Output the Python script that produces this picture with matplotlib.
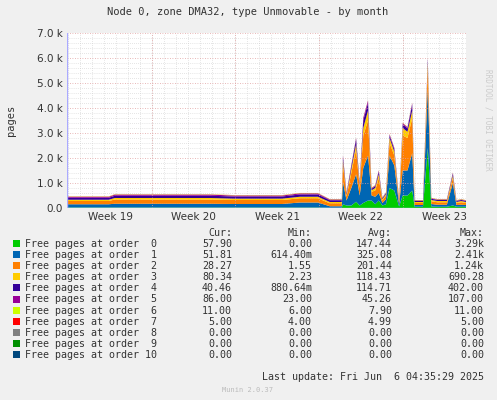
import matplotlib
matplotlib.use("Agg")
import matplotlib.pyplot as plt
import numpy as np

t = [0,1,3.5,4,6,8,10,12,14,16,18,19.5,20,21,22,22.2,23,23.1,23.4,23.8,24.2,24.5,24.8,25.2,25.5,25.8,26.1,26.4,26.7,27.0,27.4,27.8,28.1,28.5,28.9,29.1,29.4,29.8,30.2,30.5,31,31.8,32.3,32.6,33,33.4]
o0 = [20,20,20,20,20,20,20,20,20,20,20,20,20,20,10,10,10,150,100,100,250,100,200,300,300,150,300,100,150,800,700,60,500,500,700,50,50,50,2400,60,50,50,100,50,50,50]
o1 = [130,130,130,150,150,150,150,150,140,140,140,200,200,200,60,60,60,900,200,700,1100,400,1400,1800,200,300,300,100,200,1300,1000,80,1000,1000,1500,70,70,70,2400,100,80,80,900,70,80,70]
o2 = [130,130,130,170,170,170,170,170,160,160,160,170,170,170,120,120,120,700,150,600,1000,300,1300,1400,150,250,600,100,150,500,400,100,1400,1300,1400,80,80,80,800,110,100,100,200,80,100,80]
o3 = [50,50,50,60,60,60,60,60,55,55,55,60,60,60,50,50,50,150,60,150,200,100,300,400,60,100,150,50,50,200,150,50,300,250,300,40,40,40,200,50,50,50,100,40,50,40]
o4 = [80,80,80,90,90,90,90,90,85,85,85,90,90,90,70,70,70,150,60,120,200,80,300,300,60,70,100,40,40,100,100,40,150,130,250,40,40,40,150,50,40,40,80,40,40,40]
o5 = [40,40,40,45,45,45,45,45,40,40,40,45,45,45,30,30,30,50,30,40,50,30,100,100,30,30,50,20,20,50,50,20,50,50,50,20,20,20,50,20,20,20,30,20,20,20]
o6 = [11]*len(t)
o7 = [5]*len(t)
o8 = [0]*len(t)
o9 = [0]*len(t)
o10 = [0]*len(t)

names = [f"Free pages at order {i:2d}" for i in range(11)]
colors = ["#00CC00","#0066B3","#FF8000","#FFCC00","#330099","#990099","#CCFF00","#FF0000","#808080","#008F00","#00487D"]
cur = ["57.90","51.81","28.27","80.34","40.46","86.00","11.00","5.00","0.00","0.00","0.00"]
mn = ["0.00","614.40m","1.55","2.23","880.64m","23.00","6.00","4.00","0.00","0.00","0.00"]
avg = ["147.44","325.08","201.44","118.43","114.71","45.26","7.90","4.99","0.00","0.00","0.00"]
mx = ["3.29k","2.41k","1.24k","690.28","402.00","107.00","11.00","5.00","0.00","0.00","0.00"]
week_bounds = [7.1, 14.1, 21.1, 28.1]
week_labels = ["Week 19","Week 20","Week 21","Week 22","Week 23"]
week_pos = [3.6, 10.6, 17.6, 24.6, 31.6]

fig = plt.figure(figsize=(4.97, 4.0), dpi=100, facecolor="#F0F0F0")
ax = fig.add_axes([67/497, 1-208/400, 399/497, 175/400])
ax.set_facecolor("white")
ax.stackplot(t, o0, o1, o2, o3, o4, o5, o6, o7, o8, o9, o10, colors=colors, linewidth=0)
ax.set_xlim(0, 33.4)
ax.set_ylim(0, 7000)
for yv in range(200, 7001, 200):
    if yv % 1000:
        ax.axhline(yv, color="#cccccc", lw=0.5, ls=(0,(1,2)), zorder=0.5)
for d in range(0, 34):
    ax.axvline(d + 0.1, color="#cccccc", lw=0.5, ls=(0,(1,2)), zorder=0.5)
for yv in range(1000, 7001, 1000):
    ax.axhline(yv, color="#e0a0a0", lw=0.6, ls=(0,(1,2)), zorder=3)
for b in week_bounds:
    ax.axvline(b, color="#e0a0a0", lw=0.6, ls=(0,(1,2)), zorder=3)
ax.set_yticks(range(0, 7001, 1000))
ax.set_yticklabels(["0.0"] + [f"{k}.0 k" for k in range(1, 8)])
ax.set_xticks(week_pos)
ax.set_xticklabels(week_labels)
ax.tick_params(length=0, labelsize=7.5, colors="#333333", pad=3)
for s in ax.spines.values():
    s.set_visible(False)
ax.axhline(0, color="#aaaaff", lw=1, zorder=4)
ax.axvline(0, color="#aaaaff", lw=1, zorder=4)

mono = "DejaVu Sans Mono"
fig.text(248/497, 1-12/400, "Node 0, zone DMA32, type Unmovable - by month", ha="center", va="center", fontsize=7.5, family=mono, color="#333333")
fig.text(11/497, 1-120/400, "pages", rotation=90, ha="center", va="center", fontsize=7.5, family=mono, color="#333333")
fig.text(488/497, 1-120/400, "RRDTOOL / TOBI OETIKER", rotation=270, ha="center", va="center", fontsize=5.5, family=mono, color="#cccccc")

fs = 7.2
y0 = 233
for txt, x in zip(["Cur:", "Min:", "Avg:", "Max:"], [232, 312, 392, 484]):
    fig.text(x/497, 1-y0/400, txt, ha="right", va="center", fontsize=fs, family=mono, color="#333333")
for i in range(11):
    yy = 1 - (244 + i*11.1)/400
    fig.patches.append(plt.Rectangle((13/497, yy-3/400), 7/497, 7/400, transform=fig.transFigure, facecolor=colors[i], edgecolor="none"))
    fig.text(25/497, yy, names[i], ha="left", va="center", fontsize=fs, family=mono, color="#333333")
    for v, x in zip([cur[i], mn[i], avg[i], mx[i]], [232, 312, 392, 484]):
        fig.text(x/497, yy, v, ha="right", va="center", fontsize=fs, family=mono, color="#333333")
fig.text(484/497, 1-377/400, "Last update: Fri Jun  6 04:35:29 2025", ha="right", va="center", fontsize=fs, family=mono, color="#333333")
fig.text(248/497, 1-390/400, "Munin 2.0.37", ha="center", va="center", fontsize=5, family=mono, color="#bbbbbb")

fig.savefig("out.png", dpi=100, facecolor=fig.get_facecolor())
